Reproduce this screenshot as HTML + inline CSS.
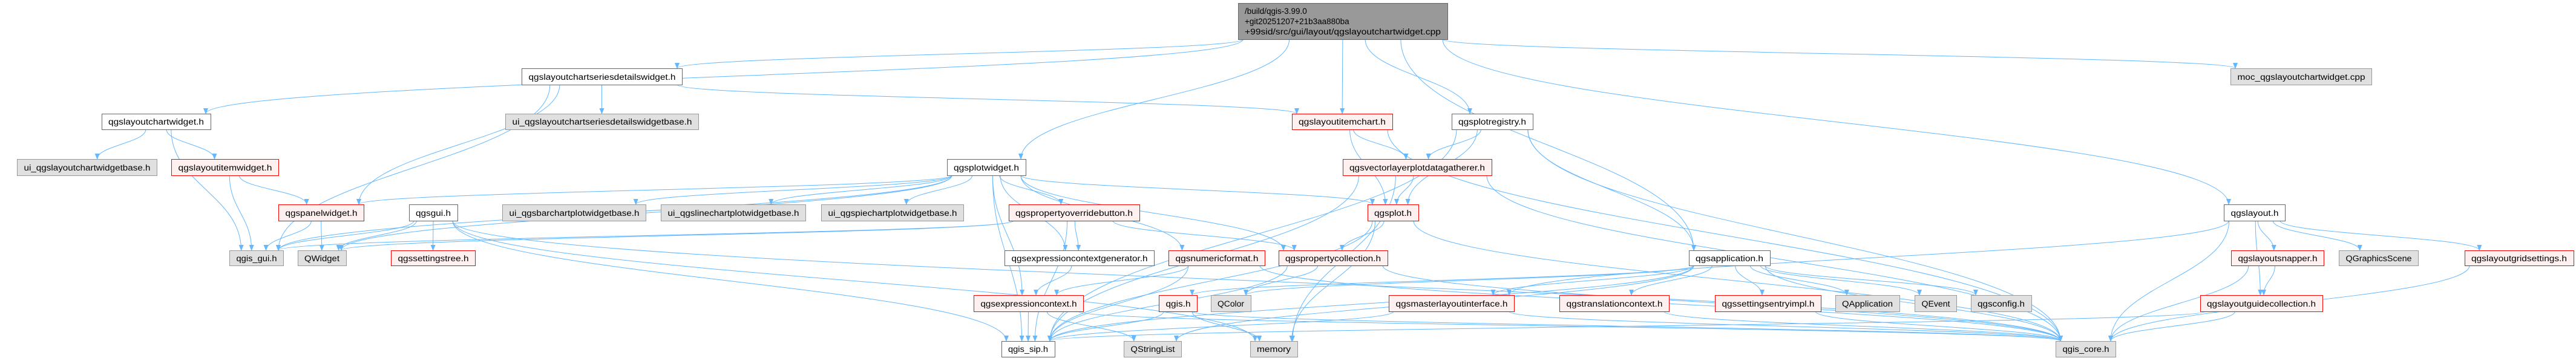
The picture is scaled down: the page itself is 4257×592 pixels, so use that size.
<!DOCTYPE html>
<html><head><meta charset="utf-8"><style>
html,body{margin:0;padding:0;background:#fff;}
svg{display:block;}
text{font-family:"Liberation Sans",sans-serif;font-size:13.5px;fill:#000;}
rect.w{fill:#fff;stroke:#666;} rect.g{fill:#e0e0e0;stroke:#999;} rect.r{fill:#fff0f0;stroke:#f00;}
</style></head><body>
<svg width="4257" height="592" viewBox="0 0 4257 592" xmlns="http://www.w3.org/2000/svg">
<defs><marker id="a" viewBox="0 0 10 10" refX="9" refY="5" markerWidth="10" markerHeight="10" markerUnits="userSpaceOnUse" orient="auto"><path d="M0,1 L10,5 L0,9 z" fill="#63b8ff"/></marker></defs>
<g id="edges" fill="none" stroke="#63b8ff" stroke-width="1"></g>
<g id="nodes" text-anchor="middle">
<rect x="2046.5" y="5.5" width="346" height="60" fill="#999" stroke="#666"/>
<text text-anchor="start" x="2057" y="23">/build/qgis-3.99.0</text>
<text text-anchor="start" x="2057" y="40">+git20251207+21b3aa880ba</text>
<text text-anchor="start" x="2057" y="57" textLength="324" lengthAdjust="spacingAndGlyphs">+99sid/src/gui/layout/qgslayoutchartwidget.cpp</text>
<rect class="w" x="168.5" y="188.5" width="180" height="26"/><text x="258" y="206" textLength="158" lengthAdjust="spacingAndGlyphs">qgslayoutchartwidget.h</text>
<rect class="g" x="28.5" y="263.5" width="231" height="27"/><text x="144" y="282" textLength="209" lengthAdjust="spacingAndGlyphs">ui_qgslayoutchartwidgetbase.h</text>
<rect class="r" x="283.5" y="263.5" width="177" height="27"/><text x="372" y="282" textLength="155" lengthAdjust="spacingAndGlyphs">qgslayoutitemwidget.h</text>
<rect class="r" x="460.5" y="338.5" width="141" height="27"/><text x="531" y="357" textLength="119" lengthAdjust="spacingAndGlyphs">qgspanelwidget.h</text>
<rect class="w" x="676.5" y="338.5" width="80" height="27"/><text x="716" y="357" textLength="58" lengthAdjust="spacingAndGlyphs">qgsgui.h</text>
<rect class="g" x="379.5" y="414.5" width="89" height="25"/><text x="424" y="432" textLength="67" lengthAdjust="spacingAndGlyphs">qgis_gui.h</text>
<rect class="g" x="492.5" y="414.5" width="80" height="25"/><text x="532" y="432" textLength="58" lengthAdjust="spacingAndGlyphs">QWidget</text>
<rect class="r" x="646.5" y="414.5" width="139" height="25"/><text x="716" y="432" textLength="117" lengthAdjust="spacingAndGlyphs">qgssettingstree.h</text>
<rect class="w" x="862.5" y="113.5" width="265" height="27"/><text x="995" y="132" textLength="243" lengthAdjust="spacingAndGlyphs">qgslayoutchartseriesdetailswidget.h</text>
<rect class="g" x="835.5" y="188.5" width="319" height="26"/><text x="995" y="206" textLength="297" lengthAdjust="spacingAndGlyphs">ui_qgslayoutchartseriesdetailswidgetbase.h</text>
<rect class="g" x="830.5" y="338.5" width="237" height="27"/><text x="949" y="357" textLength="215" lengthAdjust="spacingAndGlyphs">ui_qgsbarchartplotwidgetbase.h</text>
<rect class="g" x="1092.5" y="338.5" width="239" height="27"/><text x="1212" y="357" textLength="217" lengthAdjust="spacingAndGlyphs">ui_qgslinechartplotwidgetbase.h</text>
<rect class="g" x="1357.5" y="338.5" width="235" height="27"/><text x="1475" y="357" textLength="213" lengthAdjust="spacingAndGlyphs">ui_qgspiechartplotwidgetbase.h</text>
<rect class="w" x="1565.5" y="263.5" width="130" height="27"/><text x="1630" y="282" textLength="108" lengthAdjust="spacingAndGlyphs">qgsplotwidget.h</text>
<rect class="r" x="1667.5" y="338.5" width="216" height="27"/><text x="1775" y="357" textLength="194" lengthAdjust="spacingAndGlyphs">qgspropertyoverridebutton.h</text>
<rect class="w" x="1660.5" y="414.5" width="247" height="25"/><text x="1784" y="432" textLength="225" lengthAdjust="spacingAndGlyphs">qgsexpressioncontextgenerator.h</text>
<rect class="r" x="1931.5" y="414.5" width="159" height="25"/><text x="2011" y="432" textLength="137" lengthAdjust="spacingAndGlyphs">qgsnumericformat.h</text>
<rect class="r" x="1609.5" y="488.5" width="181" height="27"/><text x="1700" y="507" textLength="159" lengthAdjust="spacingAndGlyphs">qgsexpressioncontext.h</text>
<rect class="r" x="1915.5" y="488.5" width="63" height="27"/><text x="1947" y="507" textLength="41" lengthAdjust="spacingAndGlyphs">qgis.h</text>
<rect class="g" x="2001.5" y="488.5" width="66" height="27"/><text x="2034" y="507" textLength="44" lengthAdjust="spacingAndGlyphs">QColor</text>
<rect class="w" x="1655.5" y="564.5" width="88" height="26"/><text x="1699" y="582" textLength="66" lengthAdjust="spacingAndGlyphs">qgis_sip.h</text>
<rect class="g" x="1857.5" y="564.5" width="95" height="26"/><text x="1905" y="582" textLength="73" lengthAdjust="spacingAndGlyphs">QStringList</text>
<rect class="g" x="2066.5" y="564.5" width="78" height="26"/><text x="2105" y="582" textLength="56" lengthAdjust="spacingAndGlyphs">memory</text>
<rect class="r" x="2135.5" y="188.5" width="166" height="26"/><text x="2218" y="206" textLength="144" lengthAdjust="spacingAndGlyphs">qgslayoutitemchart.h</text>
<rect class="w" x="2399.5" y="188.5" width="134" height="26"/><text x="2466" y="206" textLength="112" lengthAdjust="spacingAndGlyphs">qgsplotregistry.h</text>
<rect class="r" x="2219.5" y="263.5" width="246" height="27"/><text x="2342" y="282" textLength="224" lengthAdjust="spacingAndGlyphs">qgsvectorlayerplotdatagatherer.h</text>
<rect class="r" x="2260.5" y="338.5" width="84" height="27"/><text x="2302" y="357" textLength="62" lengthAdjust="spacingAndGlyphs">qgsplot.h</text>
<rect class="r" x="2113.5" y="414.5" width="180" height="25"/><text x="2203" y="432" textLength="158" lengthAdjust="spacingAndGlyphs">qgspropertycollection.h</text>
<rect class="r" x="2295.5" y="488.5" width="207" height="27"/><text x="2399" y="507" textLength="185" lengthAdjust="spacingAndGlyphs">qgsmasterlayoutinterface.h</text>
<rect class="r" x="2577.5" y="488.5" width="181" height="27"/><text x="2668" y="507" textLength="159" lengthAdjust="spacingAndGlyphs">qgstranslationcontext.h</text>
<rect class="w" x="2791.5" y="414.5" width="134" height="25"/><text x="2858" y="432" textLength="112" lengthAdjust="spacingAndGlyphs">qgsapplication.h</text>
<rect class="r" x="2834.5" y="488.5" width="175" height="27"/><text x="2922" y="507" textLength="153" lengthAdjust="spacingAndGlyphs">qgssettingsentryimpl.h</text>
<rect class="g" x="3033.5" y="488.5" width="106" height="27"/><text x="3086" y="507" textLength="84" lengthAdjust="spacingAndGlyphs">QApplication</text>
<rect class="g" x="3164.5" y="488.5" width="69" height="27"/><text x="3199" y="507" textLength="47" lengthAdjust="spacingAndGlyphs">QEvent</text>
<rect class="g" x="3257.5" y="488.5" width="100" height="27"/><text x="3307" y="507" textLength="78" lengthAdjust="spacingAndGlyphs">qgsconfig.h</text>
<rect class="g" x="3397.5" y="564.5" width="99" height="26"/><text x="3447" y="582" textLength="77" lengthAdjust="spacingAndGlyphs">qgis_core.h</text>
<rect class="g" x="3686.5" y="113.5" width="233" height="27"/><text x="3803" y="132" textLength="211" lengthAdjust="spacingAndGlyphs">moc_qgslayoutchartwidget.cpp</text>
<rect class="w" x="3675.5" y="338.5" width="101" height="27"/><text x="3726" y="357" textLength="79" lengthAdjust="spacingAndGlyphs">qgslayout.h</text>
<rect class="r" x="3687.5" y="414.5" width="153" height="25"/><text x="3764" y="432" textLength="131" lengthAdjust="spacingAndGlyphs">qgslayoutsnapper.h</text>
<rect class="g" x="3865.5" y="414.5" width="131" height="25"/><text x="3931" y="432" textLength="109" lengthAdjust="spacingAndGlyphs">QGraphicsScene</text>
<rect class="r" x="4073.5" y="414.5" width="180" height="25"/><text x="4163" y="432" textLength="158" lengthAdjust="spacingAndGlyphs">qgslayoutgridsettings.h</text>
<rect class="r" x="3636.5" y="488.5" width="202" height="27"/><text x="3737" y="507" textLength="180" lengthAdjust="spacingAndGlyphs">qgslayoutguidecollection.h</text>
</g>
</svg>
<script>
var N={R:[2046,5,2392,65],LCW:[168,188,348,214],UILCW:[28,263,259,290],LIW:[283,263,460,290],PW:[460,338,601,365],GUI:[676,338,756,365],QGUI:[379,414,468,439],QW:[492,414,572,439],STREE:[646,414,785,439],SD:[862,113,1127,140],UISD:[835,188,1154,214],UIBAR:[830,338,1067,365],UILINE:[1092,338,1331,365],UIPIE:[1357,338,1592,365],PLW:[1565,263,1695,290],POB:[1667,338,1883,365],ECG:[1660,414,1907,439],NF:[1931,414,2090,439],EC:[1609,488,1790,515],QGIS:[1915,488,1978,515],QCOLOR:[2001,488,2067,515],SIP:[1655,564,1743,590],QSL:[1857,564,1952,590],MEM:[2066,564,2144,590],LIC:[2135,188,2301,214],PREG:[2399,188,2533,214],VLPDG:[2219,263,2465,290],PLOT:[2260,338,2344,365],PC:[2113,414,2293,439],MLI:[2295,488,2502,515],TC:[2577,488,2758,515],APP:[2791,414,2925,439],SEI:[2834,488,3009,515],QAPP:[3033,488,3139,515],QEV:[3164,488,3233,515],CFG:[3257,488,3357,515],CORE:[3397,564,3496,590],MOC:[3686,113,3919,140],LAY:[3675,338,3776,365],SNAP:[3687,414,3840,439],QGS:[3865,414,3996,439],GRID:[4073,414,4253,439],GUIDE:[3636,488,3838,515]};
var E={R:['LCW','SD','LIC','PREG','PLW','APP','LAY','MOC'],LCW:['UILCW','LIW','QGUI'],LIW:['QGUI','PW'],PW:['QGUI','QW'],SD:['UISD','QGUI','PW','LIC'],PLW:['PW','QW','QGUI','UIBAR','UILINE','UIPIE','POB','ECG','NF','PLOT','PC','SIP','EC'],GUI:['QGUI','QW','STREE','SIP','CORE','MEM'],POB:['ECG','PC','QGUI','QW','SIP'],ECG:['EC'],NF:['EC','SIP','CORE'],EC:['SIP','QSL','CORE'],QGIS:['SIP','MEM','CORE'],PC:['QCOLOR','SIP','CORE'],LIC:['VLPDG','PLOT','CORE'],PREG:['VLPDG','PLOT','APP','CORE','SIP'],VLPDG:['PLOT','MEM','CORE','SIP'],PLOT:['PC','CORE','SIP','MEM'],APP:['SEI','QAPP','QEV','CFG','CORE','MLI','TC','QGIS','SIP','QSL','QCOLOR'],MLI:['CORE','SIP'],TC:['CORE'],SEI:['CORE'],LAY:['SNAP','QGS','GRID','GUIDE','CORE','MLI'],SNAP:['GUIDE','CORE'],GUIDE:['CORE','SIP'],GRID:['CORE']};
var ns='http://www.w3.org/2000/svg',eg=document.getElementById('edges');
for(var k in E){var s=N[k];E[k].forEach(function(t){var d=N[t],sx,sy,tx,ty,p;
 var scx=(s[0]+s[2])/2,tcx=(d[0]+d[2])/2;
 if(d[1]>s[3]){sx=Math.max(s[0]+8,Math.min(s[2]-8,scx+(tcx-scx)*0.15));sy=s[3];
  tx=Math.max(d[0]+8,Math.min(d[2]-8,tcx+(scx-tcx)*0.15));ty=d[1];
  var dy=(ty-sy)*0.45;p='M'+sx+','+sy+' C'+sx+','+(sy+dy)+' '+tx+','+(ty-dy)+' '+tx+','+ty;}
 else{sy=(s[1]+s[3])/2;ty=(d[1]+d[3])/2;if(tcx<scx){sx=s[0];tx=d[2];}else{sx=s[2];tx=d[0];}
  p='M'+sx+','+sy+' C'+((sx+tx)/2)+','+sy+' '+((sx+tx)/2)+','+ty+' '+tx+','+ty;}
 var e=document.createElementNS(ns,'path');e.setAttribute('d',p);e.setAttribute('marker-end','url(#a)');eg.appendChild(e);});}
</script>
</body></html>
